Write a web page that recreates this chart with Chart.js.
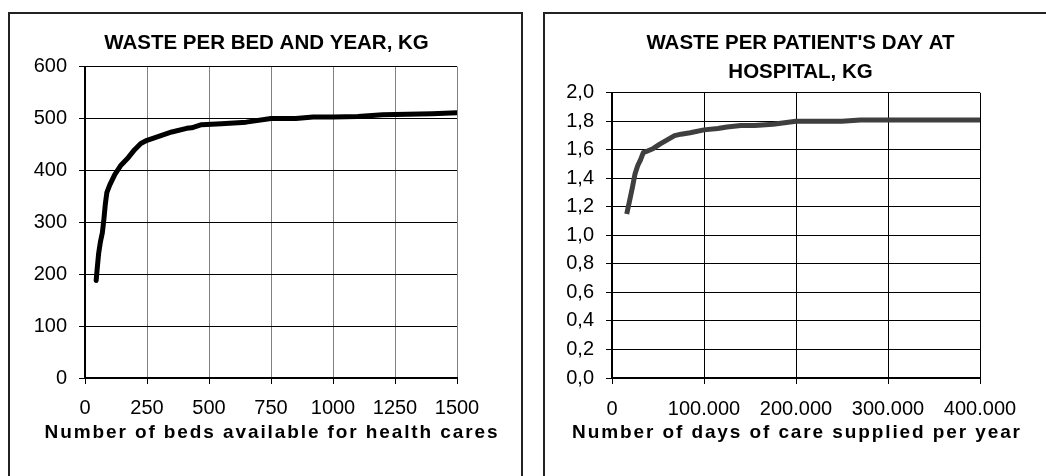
<!DOCTYPE html>
<html>
<head>
<meta charset="utf-8">
<script src="https://cdn.jsdelivr.net/npm/chart.js@4.4.1/dist/chart.umd.min.js"></script>
<style>
  html, body { margin: 0; padding: 0; background: #fff; overflow: hidden; }
  body { width: 1046px; height: 476px; position: relative; }
  .box { position: absolute; border: 2px solid #222; box-sizing: border-box; }
  canvas { position: absolute; }
</style>
</head>
<body>
<div class="box" style="left:8px; top:12px; width:515px; height:480px;"></div>
<div class="box" style="left:543px; top:12px; width:506px; height:480px;"></div>
<canvas id="bedChart" width="511" height="462" style="left:10px; top:14px;"></canvas>
<canvas id="dayChart" width="501" height="462" style="left:545px; top:14px;"></canvas>
<script>
// left: waste per bed and year (kg) vs number of beds
const beds = [45, 50, 55, 62, 70, 76, 82, 88, 100, 120, 145, 175, 200, 225, 250, 300, 350, 410, 430, 470, 550, 650, 750, 850, 920, 1000, 1100, 1200, 1300, 1400, 1500];
const wastePerBed = [188, 215, 240, 262, 280, 305, 335, 357, 372, 392, 410, 425, 440, 452, 458, 466, 474, 481, 482, 488, 490, 493, 500, 500, 503, 503, 504, 507, 508, 509, 511];
const bedTicks = [0, 250, 500, 750, 1000, 1250, 1500];
const bedWasteTicks = [0, 100, 200, 300, 400, 500, 600];

// right: waste per patient's day (kg) vs days of care per year
const careDays = [16000, 19000, 22000, 25000, 28000, 31000, 34000, 38000, 45000, 52000, 60000, 68000, 75000, 85000, 100000, 115000, 125000, 140000, 155000, 175000, 200000, 225000, 250000, 270000, 300000, 350000, 400000];
const wastePerDay = [1.15, 1.24, 1.33, 1.43, 1.49, 1.53, 1.58, 1.59, 1.61, 1.64, 1.67, 1.70, 1.71, 1.72, 1.74, 1.75, 1.76, 1.77, 1.77, 1.78, 1.80, 1.80, 1.80, 1.81, 1.81, 1.81, 1.81];
const dayTicks = [0, 100000, 200000, 300000, 400000];
const dayWasteTicks = [0, 0.2, 0.4, 0.6, 0.8, 1.0, 1.2, 1.4, 1.6, 1.8, 2.0];

const FONT = "'Liberation Sans', Arial, sans-serif";
const thousands = v => String(v).replace(/\B(?=(\d{3})+(?!\d))/g, '.');
const decComma = v => v.toFixed(1).replace('.', ',');

// the x-axis caption is spaced out like the old Excel print, so it is drawn here
const spacedXTitle = text => ({
  id: 'spacedXTitle',
  afterDraw(chart) {
    const { ctx, chartArea } = chart;
    ctx.save();
    ctx.font = `bold 19px ${FONT}`;
    ctx.letterSpacing = '1.9px';
    ctx.fillStyle = '#000';
    ctx.textAlign = 'center';
    ctx.textBaseline = 'middle';
    ctx.fillText(text, (chartArea.left + chartArea.right) / 2 + 1, chartArea.bottom + 55);
    ctx.restore();
  },
});

function makeChart(id, o) {
  return new Chart(document.getElementById(id), {
    type: 'line',
    data: {
      datasets: [{
        data: o.xs.map((x, i) => ({ x, y: o.ys[i] })),
        borderColor: o.color,
        borderWidth: 5,
        borderCapStyle: o.cap,
        borderJoinStyle: 'round',
        pointRadius: 0,
        tension: 0,
      }],
    },
    plugins: [spacedXTitle(o.xTitle)],
    options: {
      responsive: false,
      animation: false,
      events: [],
      layout: { padding: o.pad },
      plugins: {
        legend: { display: false },
        tooltip: { enabled: false },
        title: {
          display: true,
          text: o.title,
          color: '#000',
          font: { family: FONT, size: 20.5, weight: 'bold', lineHeight: o.titleLH },
          padding: o.titlePad,
        },
      },
      scales: {
        x: {
          type: 'linear',
          min: o.xTicks[0],
          max: o.xTicks[o.xTicks.length - 1],
          afterBuildTicks: s => { s.ticks = o.xTicks.map(v => ({ value: v })); },
          afterFit: s => { s.height = 70; },
          grid: { color: o.vGrid, lineWidth: 1, tickLength: 6, tickColor: '#000' },
          border: { color: '#000', width: 2 },
          ticks: {
            color: '#000', padding: o.xTickPad, maxRotation: 0, autoSkip: false,
            font: { family: FONT, size: 20 },
            callback: o.xFmt,
          },
        },
        y: {
          type: 'linear',
          min: o.yTicks[0],
          max: o.yTicks[o.yTicks.length - 1],
          afterBuildTicks: s => { s.ticks = o.yTicks.map(v => ({ value: v })); },
          afterFit: s => { s.width = o.yWidth; },
          grid: { color: '#000', lineWidth: 1, tickLength: 6, tickColor: '#000' },
          border: { color: '#000', width: 2 },
          ticks: {
            color: '#000', padding: 12, autoSkip: false,
            font: { family: FONT, size: 20 },
            callback: o.yFmt,
          },
        },
        // empty right-hand spacer so the title stays centred on the whole panel
        spacer: {
          type: 'linear',
          position: 'right',
          min: 0, max: 1,
          afterFit: s => { s.width = o.spacer; },
          grid: { display: false, drawTicks: false },
          border: { display: false },
          ticks: { display: false },
        },
      },
    },
  });
}

makeChart('bedChart', {
  xs: beds, ys: wastePerBed, color: '#000', cap: 'round',
  title: 'WASTE PER BED AND YEAR, KG', titleLH: 1.2, titlePad: { top: 17, bottom: 11 },
  pad: { left: 7, right: 5, top: 0, bottom: 28 },
  xTicks: bedTicks, yTicks: bedWasteTicks, yWidth: 68, spacer: 59, xTickPad: 12,
  vGrid: '#808080',
  xFmt: v => String(v), yFmt: v => String(v),
  xTitle: 'Number of beds available for health cares',
});

makeChart('dayChart', {
  xs: careDays, ys: wastePerDay, color: '#3f3f3f', cap: 'butt',
  title: ["WASTE PER PATIENT'S DAY AT", 'HOSPITAL, KG'], titleLH: 1.41, titlePad: { top: 15, bottom: 6 },
  pad: { left: 10, right: 0, top: 0, bottom: 28 },
  xTicks: dayTicks, yTicks: dayWasteTicks, yWidth: 57, spacer: 66, xTickPad: 13,
  vGrid: '#000',
  xFmt: v => thousands(v), yFmt: v => decComma(v),
  xTitle: 'Number of days of care supplied per year',
});
</script>
</body>
</html>
